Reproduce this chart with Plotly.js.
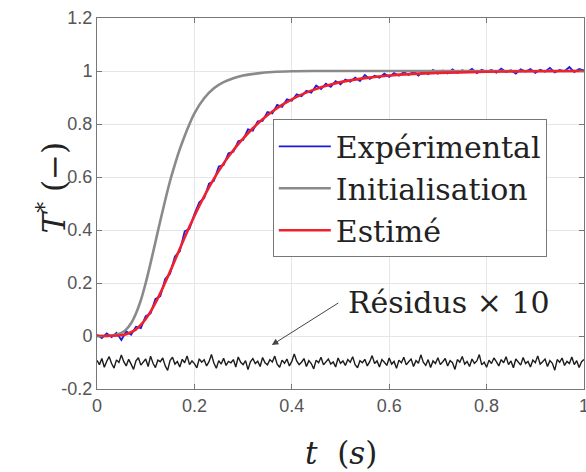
<!DOCTYPE html>
<html>
<head>
<meta charset="utf-8">
<script src="https://cdn.plot.ly/plotly-3.0.1.min.js"></script>
<style>html,body{margin:0;padding:0;background:#fff}#chart{width:586px;height:472px}</style>
</head>
<body>
<div id="chart"></div>
<script>
// ---- Data ----
const expTime = [0.00,0.01,0.02,0.03,0.04,0.05,0.06,0.07,0.08,0.09,0.10,0.11,0.12,0.13,0.14,0.15,0.16,0.17,0.18,0.19,0.20,0.21,0.22,0.23,0.24,0.25,0.26,0.27,0.28,0.29,0.30,0.31,0.32,0.33,0.34,0.35,0.36,0.37,0.38,0.39,0.40,0.41,0.42,0.43,0.44,0.45,0.46,0.47,0.48,0.49,0.50,0.51,0.52,0.53,0.54,0.55,0.56,0.57,0.58,0.59,0.60,0.61,0.62,0.63,0.64,0.65,0.66,0.67,0.68,0.69,0.70,0.71,0.72,0.73,0.74,0.75,0.76,0.77,0.78,0.79,0.80,0.81,0.82,0.83,0.84,0.85,0.86,0.87,0.88,0.89,0.90,0.91,0.92,0.93,0.94,0.95,0.96,0.97,0.98,0.99,1.00];
const expValues = [0.005,-0.008,0.010,-0.004,0.012,-0.015,0.018,0.005,0.035,0.030,0.075,0.085,0.140,0.150,0.215,0.235,0.300,0.320,0.395,0.405,0.460,0.505,0.520,0.575,0.585,0.640,0.645,0.690,0.695,0.735,0.740,0.780,0.775,0.810,0.812,0.845,0.840,0.872,0.865,0.893,0.888,0.912,0.905,0.925,0.918,0.945,0.932,0.952,0.940,0.962,0.950,0.968,0.960,0.975,0.962,0.985,0.970,0.982,0.975,0.990,0.978,0.992,0.982,0.996,0.985,0.998,0.983,0.999,0.988,1.004,0.990,1.002,0.991,1.006,0.993,1.003,0.996,1.008,0.992,1.005,0.997,1.004,0.994,1.009,0.996,1.003,0.990,1.006,0.998,1.007,0.993,1.005,0.997,1.012,0.995,1.004,0.999,1.015,0.996,1.008,1.002];

const initTime = [0.00,0.03,0.05,0.06,0.07,0.08,0.09,0.10,0.11,0.12,0.13,0.14,0.15,0.16,0.17,0.18,0.19,0.20,0.22,0.24,0.26,0.28,0.30,0.33,0.36,0.40,0.45,0.60,0.80,1.00];
const initValues = [0.000,0.002,0.012,0.025,0.048,0.085,0.135,0.200,0.275,0.355,0.435,0.512,0.585,0.648,0.705,0.755,0.800,0.840,0.897,0.935,0.958,0.973,0.983,0.991,0.996,0.999,1.000,1.000,1.000,1.000];

const estTime = [0.00,0.05,0.06,0.07,0.08,0.09,0.10,0.11,0.12,0.13,0.14,0.15,0.16,0.17,0.18,0.19,0.20,0.21,0.22,0.23,0.24,0.25,0.26,0.27,0.28,0.29,0.30,0.32,0.34,0.36,0.38,0.40,0.42,0.44,0.46,0.48,0.50,0.55,0.60,0.65,0.70,0.80,0.90,1.00];
const estValues = [0.000,0.003,0.007,0.014,0.025,0.042,0.064,0.092,0.125,0.162,0.202,0.243,0.286,0.329,0.372,0.413,0.453,0.491,0.527,0.561,0.593,0.623,0.651,0.677,0.701,0.724,0.745,0.784,0.818,0.847,0.872,0.893,0.911,0.926,0.939,0.949,0.958,0.973,0.983,0.989,0.993,0.997,0.999,1.000];

const resStep = 0.005;
const resValues = [
-0.092,-0.108,-0.085,-0.118,-0.095,-0.078,-0.104,-0.121,-0.090,-0.100,
-0.072,-0.097,-0.113,-0.088,-0.106,-0.126,-0.094,-0.082,-0.110,-0.098,
-0.087,-0.115,-0.076,-0.103,-0.119,-0.091,-0.097,-0.083,-0.112,-0.130,
-0.093,-0.080,-0.106,-0.096,-0.117,-0.088,-0.101,-0.075,-0.108,-0.094,
-0.104,-0.120,-0.086,-0.099,-0.090,-0.113,-0.097,-0.070,-0.102,-0.122,
-0.093,-0.106,-0.084,-0.111,-0.096,-0.101,-0.089,-0.117,-0.079,-0.099,
-0.108,-0.093,-0.127,-0.097,-0.085,-0.104,-0.095,-0.115,-0.081,-0.101,
-0.109,-0.089,-0.098,-0.076,-0.106,-0.118,-0.091,-0.103,-0.087,-0.113,
-0.096,-0.068,-0.094,-0.108,-0.099,-0.085,-0.115,-0.093,-0.104,-0.124,
-0.091,-0.101,-0.080,-0.109,-0.096,-0.087,-0.106,-0.098,-0.117,-0.083,
-0.103,-0.094,-0.111,-0.089,-0.099,-0.078,-0.108,-0.120,-0.093,-0.101,
-0.088,-0.113,-0.097,-0.074,-0.104,-0.094,-0.117,-0.089,-0.099,-0.111,
-0.083,-0.106,-0.096,-0.122,-0.091,-0.101,-0.080,-0.109,-0.097,-0.087,
-0.115,-0.093,-0.103,-0.071,-0.099,-0.111,-0.089,-0.119,-0.094,-0.104,
-0.082,-0.108,-0.097,-0.085,-0.113,-0.093,-0.101,-0.126,-0.089,-0.099,
-0.077,-0.106,-0.096,-0.115,-0.087,-0.103,-0.094,-0.070,-0.109,-0.099,
-0.118,-0.091,-0.104,-0.083,-0.097,-0.113,-0.089,-0.101,-0.078,-0.108,
-0.094,-0.120,-0.087,-0.099,-0.110,-0.081,-0.104,-0.096,-0.117,-0.091,
-0.101,-0.075,-0.106,-0.097,-0.087,-0.115,-0.093,-0.103,-0.129,-0.089,
-0.099,-0.083,-0.111,-0.096,-0.104,-0.079,-0.108,-0.093,-0.119,-0.097,
-0.089];
const resTime = resValues.map((_, i) => +(i * resStep).toFixed(3));

const seriesNames = ['Expérimental', 'Initialisation', 'Estimé'];
const xTicks = [0, 0.2, 0.4, 0.6, 0.8, 1];
const xTickText = ['0', '0.2', '0.4', '0.6', '0.8', '1'];
const yTicks = [-0.2, 0, 0.2, 0.4, 0.6, 0.8, 1, 1.2];
const yTickText = ['-0.2', '0', '0.2', '0.4', '0.6', '0.8', '1', '1.2'];
const residualLabel = 'Résidus × 10';

// ---- Chart ----
const serif = 'DejaVu Serif, Liberation Serif, serif';
const traces = [
  {x: expTime, y: expValues, name: seriesNames[0], mode: 'lines',
   line: {color: '#1a1ae0', width: 1.8}},
  {x: initTime, y: initValues, name: seriesNames[1], mode: 'lines',
   line: {color: '#8a8a8a', width: 2.6, shape: 'spline'}},
  {x: estTime, y: estValues, name: seriesNames[2], mode: 'lines',
   line: {color: '#f0202c', width: 2.6, shape: 'spline'}},
  {x: resTime, y: resValues, name: 'res', mode: 'lines', showlegend: false,
   line: {color: '#1c1c1c', width: 1.4}}
];

const axisCommon = {
  showline: true, linecolor: '#777', linewidth: 1, mirror: 'ticks',
  ticks: 'inside', ticklen: 5, tickcolor: '#777',
  showgrid: true, gridcolor: '#e6e6e6', gridwidth: 1, zeroline: false,
  ticklabeloverflow: 'allow',
  tickfont: {family: 'Liberation Sans, Arial, sans-serif', size: 18, color: '#555'}
};

const layout = {
  width: 586, height: 472,
  margin: {l: 97, r: 2, t: 18, b: 83},
  paper_bgcolor: '#fff', plot_bgcolor: '#fff',
  showlegend: true,
  xaxis: Object.assign({}, axisCommon, {range: [0, 1], tickvals: xTicks, ticktext: xTickText}),
  yaxis: Object.assign({}, axisCommon, {range: [-0.2, 1.2], tickvals: yTicks, ticktext: yTickText}),
  legend: {x: 0.361, y: 0.727, xanchor: 'left', yanchor: 'top',
    bgcolor: '#fff', bordercolor: '#777', borderwidth: 1, itemwidth: 52,
    font: {family: serif, size: 30, color: '#222'}},
  annotations: [
    {xref: 'paper', yref: 'paper', x: -0.137, y: 0.544, text: '<i>T</i><sup>*</sup> (−)',
     textangle: -90, showarrow: false, font: {family: serif, size: 31, color: '#222'}},
    {xref: 'paper', yref: 'paper', x: 0.5, y: -0.1725, yanchor: 'middle', text: '<i>t</i>  (<i>s</i>)',
     showarrow: false, font: {family: serif, size: 31, color: '#222'}},
    {x: 0.359, y: -0.034, ax: 68, ay: -43, text: '', showarrow: true,
     arrowhead: 2, arrowsize: 1.3, arrowwidth: 1, arrowcolor: '#444'},
    {x: 0.722, y: 0.128, text: residualLabel, showarrow: false,
     font: {family: serif, size: 30, color: '#222'}}
  ]
};

Plotly.newPlot('chart', traces, layout, {displayModeBar: false, staticPlot: true});
</script>
</body>
</html>
